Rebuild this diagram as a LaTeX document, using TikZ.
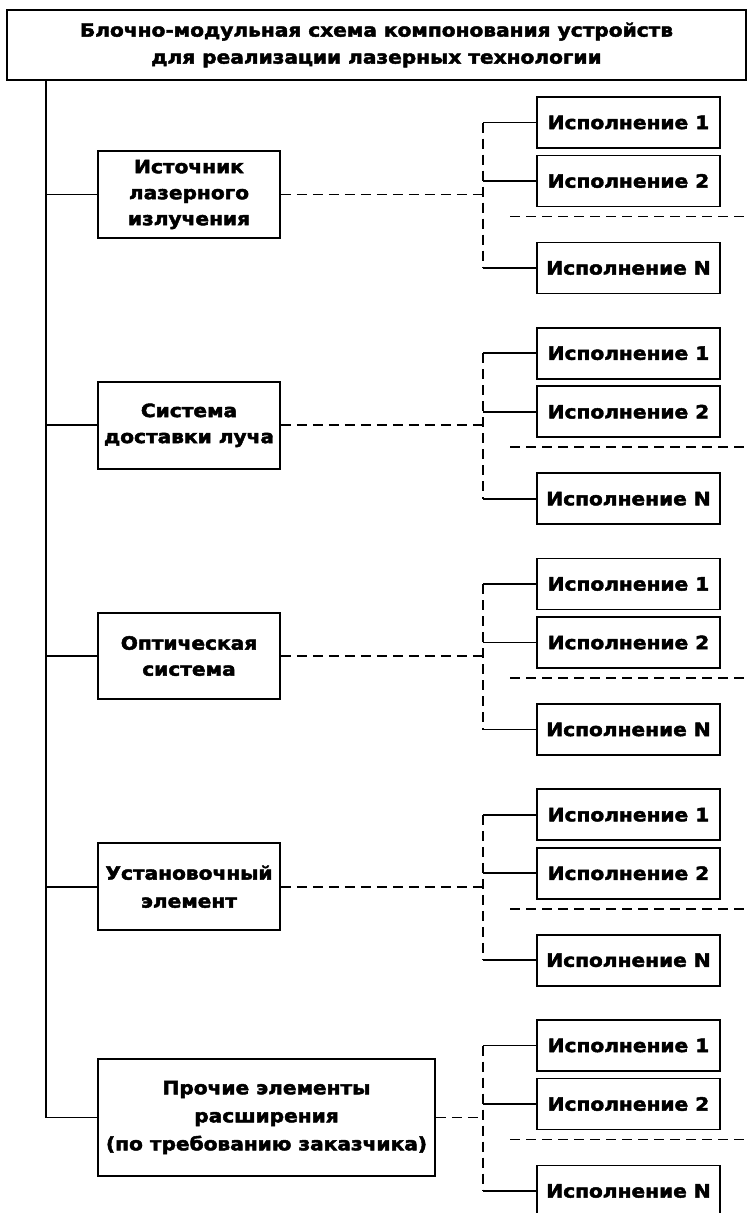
\documentclass[tikz,border=0pt]{standalone}
\usepackage{fontspec}
\newfontfamily\hv[FakeStretch=1.1,FakeBold=2.5]{DejaVu Sans Bold}
\begin{document}
\begin{tikzpicture}[x=1pt,y=-1pt,
  txt/.style={font=\hv\fontsize{18.3}{26}\selectfont},
  titlebox/.style={draw, line width=1.8pt, inner sep=0pt, align=center, font=\hv\fontsize{18.3}{27}\selectfont},
  leftbox/.style={draw, line width=1.8pt, inner sep=0pt, align=center, txt},
  varbox/.style={draw, line width=1.8pt, inner sep=0pt, minimum width=183pt, minimum height=51pt, txt},
  solidline/.style={line width=1.8pt},
  dashline/.style={line width=1.8pt, dash pattern=on 10pt off 6pt}
]
\useasboundingbox (0,0) rectangle (747,1213);
\node[titlebox, minimum width=739pt, minimum height=70pt] (title) at (376.5,45)
  {Блочно-модульная схема компонования устройств\\для реализации лазерных технологии};
\coordinate (top) at (46,80);
\foreach \k/\w/\h/\ls/\t in {
  0/182/87/26/{Источник\\лазерного\\излучения},
  1/182/87/26/{Система\\доставки луча},
  2/182/86/26/{Оптическая\\система},
  3/182/87/28/{Установочный\\элемент},
  4/337/117/28/{Прочие элементы\\расширения\\(по требованию заказчика)}}{
  \pgfmathsetmacro{\c}{194.5+230.75*\k}
  \node[leftbox, minimum width=\w pt, minimum height=\h pt, font=\hv\fontsize{18.3}{\ls}\selectfont] (L\k) at ({98+\w/2},\c) {\t};
  \coordinate (J\k) at (46,\c);
  \coordinate (D\k) at (483,\c);
  \node[varbox] (A\k) at (628.5,\c-72) {Исполнение 1};
  \node[varbox] (B\k) at (628.5,\c-13.5) {Исполнение 2};
  \node[varbox] (N\k) at (628.5,\c+73.5) {Исполнение N};
  \coordinate (DA\k) at (483,\c-72);
  \coordinate (DB\k) at (483,\c-13.5);
  \coordinate (DN\k) at (483,\c+73.5);
  \coordinate (S\k) at (510,\c+22);
  \coordinate (E\k) at (747,\c+22);
  \draw[solidline] (J\k) -- (L\k.west);
  \draw[dashline] (L\k.east) -- (D\k);
  \draw[dashline] (DA\k) -- (DN\k);
  \draw[solidline] (DA\k) -- (A\k.west);
  \draw[solidline] (DB\k) -- (B\k.west);
  \draw[solidline] (DN\k) -- (N\k.west);
  \draw[dashline] (S\k) -- (E\k);
}
\draw[solidline] (title.south -| top) -- (J4);
\end{tikzpicture}
\end{document}
